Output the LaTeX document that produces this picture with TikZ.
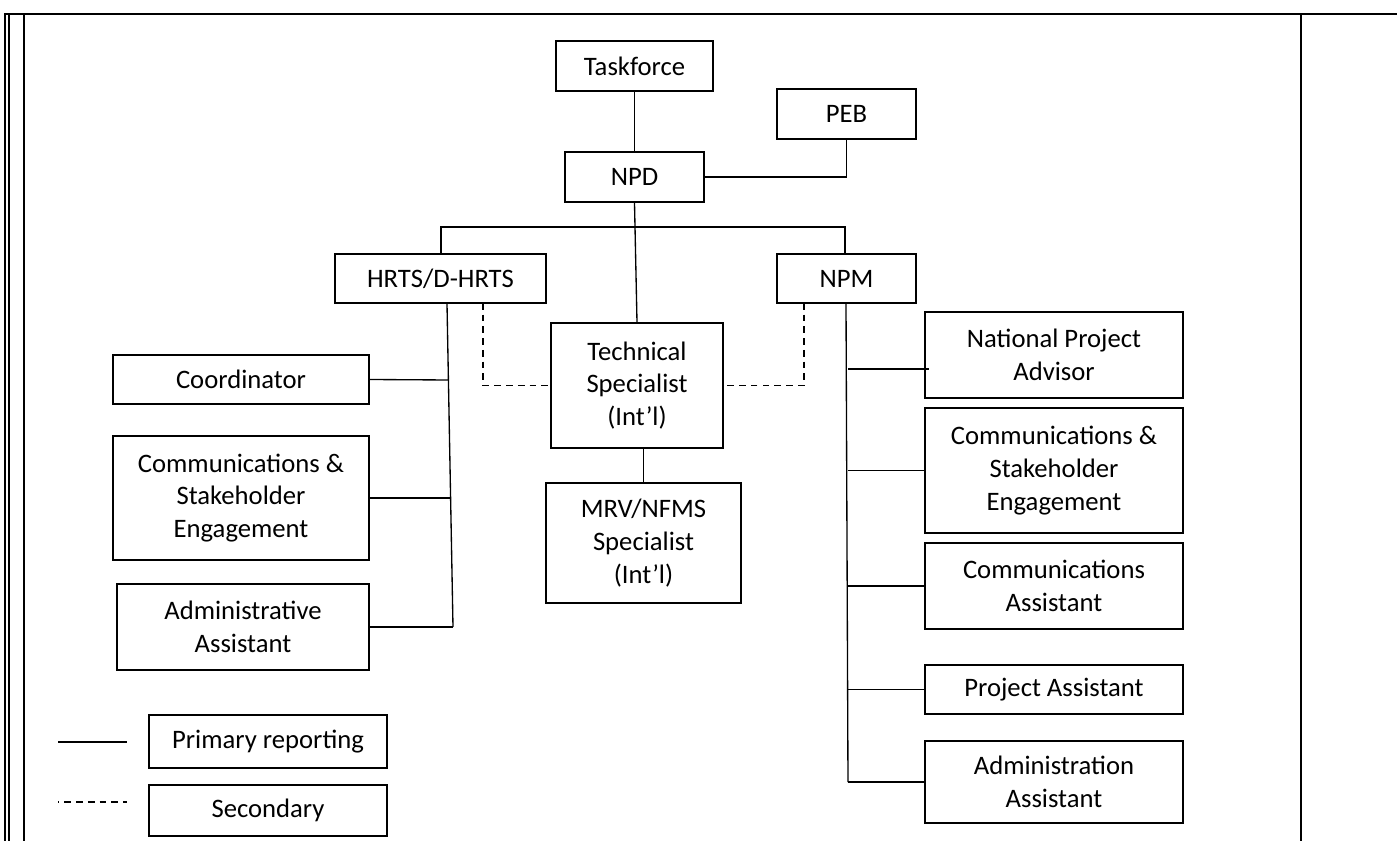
\documentclass[tikz,border=0pt]{standalone}
\usepackage{fontspec}
\setmainfont{Carlito}
\tikzset{
  obx/.style={draw, line width=1.3pt, rectangle, inner sep=0pt, align=center,
    font=\fontsize{20}{24.5}\selectfont},
  conn/.style={line width=1pt},
  sec/.style={line width=1pt, dash pattern=on 5pt off 3.8pt},
  frame/.style={line width=1.5pt},
}
\newcommand\obox[6]{\node[obx, minimum width={(#4-#2)*0.75pt}, minimum height={(#5-#3)*0.75pt}] (#1) at ({(#2+#4)/2},{(#3+#5)/2}) {#6};}
\begin{document}
\begin{tikzpicture}[x=0.75pt, y=-0.75pt]
\useasboundingbox (0,0) rectangle (1397,841);
% frame
\draw[line width=1.7pt] (4,14) -- (1301,14);
\draw[line width=1.3pt] (1301,14) -- (1397,14);
\draw[line width=0.8pt] (5,14) -- (5,841);
\draw[line width=1pt] (9,14) -- (9,841);
\draw[frame] (24,14) -- (24,841);
\draw[frame] (1301,14) -- (1301,841);
% boxes
\obox{tf}{556}{41}{713}{91}{Taskforce}
\obox{peb}{777}{89}{916}{139}{PEB}
\obox{npd}{565}{152}{704}{202}{NPD}
\obox{hrts}{335}{254}{546}{303}{HRTS/D-HRTS}
\obox{npm}{777}{254}{916}{303}{NPM}
\obox{tech}{551}{323}{723}{448}{Technical\\Specialist\\(Int’l)}
\obox{mrv}{546}{483}{741}{603}{MRV/NFMS\\Specialist\\(Int’l)}
\obox{coord}{113}{355}{369}{404}{Coordinator}
\obox{comml}{113}{436}{369}{560}{Communications \&\\Stakeholder\\Engagement}
\obox{adml}{117}{584}{369}{670}{Administrative\\Assistant}
\obox{npa}{925}{312}{1183}{398}{National Project\\Advisor}
\obox{commr}{925}{408}{1183}{533}{Communications \&\\Stakeholder\\Engagement}
\obox{comma}{925}{543}{1183}{629}{Communications\\Assistant}
\obox{proja}{925}{665}{1183}{714}{Project Assistant}
\obox{admr}{925}{741}{1183}{823}{Administration\\Assistant}
\obox{prim}{149}{715}{387}{768}{Primary reporting}
\obox{secd}{149}{785}{387}{836}{Secondary}
% coordinates
\coordinate (bl) at (441,227);
\coordinate (br) at (845,227);
\coordinate (hb) at (453,627);
\coordinate (nt) at (846,303);
\coordinate (nb) at (848,782);
\coordinate (npaj) at (848,369);
\coordinate (npaend) at (929,369);
\coordinate (dl) at (483,303);
\coordinate (dr) at (804,303);
\coordinate (l1a) at (58,742);
\coordinate (l1b) at (127,742);
\coordinate (l2a) at (58,802);
\coordinate (l2b) at (127,802);
% connectors
\draw[conn] (tf) -- (npd);
\draw[conn] (npd.east) -| (peb.south);
\draw[conn] (npd.south) -- (tech.north);
\draw[conn] (hrts.north -| bl) -- (bl) -- (br) -- (npm.north -| br);
\draw[conn] (hrts.south -| 447,0) -- (hb);
\draw[conn] (coord.east) -- (448.4,380);
\draw[conn] (comml.east) -- (450.6,498);
\draw[conn] (adml.east) -- (hb);
\draw[sec] (dl) |- (tech.west);
\draw[sec] (dr) |- (tech.east);
\draw[conn] (mrv.north |- tech.south) -- (mrv.north);
\draw[conn] (nt) -- (nb);
\draw[conn] (npaj) -- (npaend);
\draw[conn] (commr.west) -- (commr.west -| nb);
\draw[conn] (comma.west) -- (comma.west -| nb);
\draw[conn] (proja.west) -- (proja.west -| nb);
\draw[conn] (admr.west) -- (nb);
% legend
\draw[conn] (l1a) -- (l1b);
\draw[sec, dash phase=4pt] (l2a) -- (l2b);
\end{tikzpicture}
\end{document}
